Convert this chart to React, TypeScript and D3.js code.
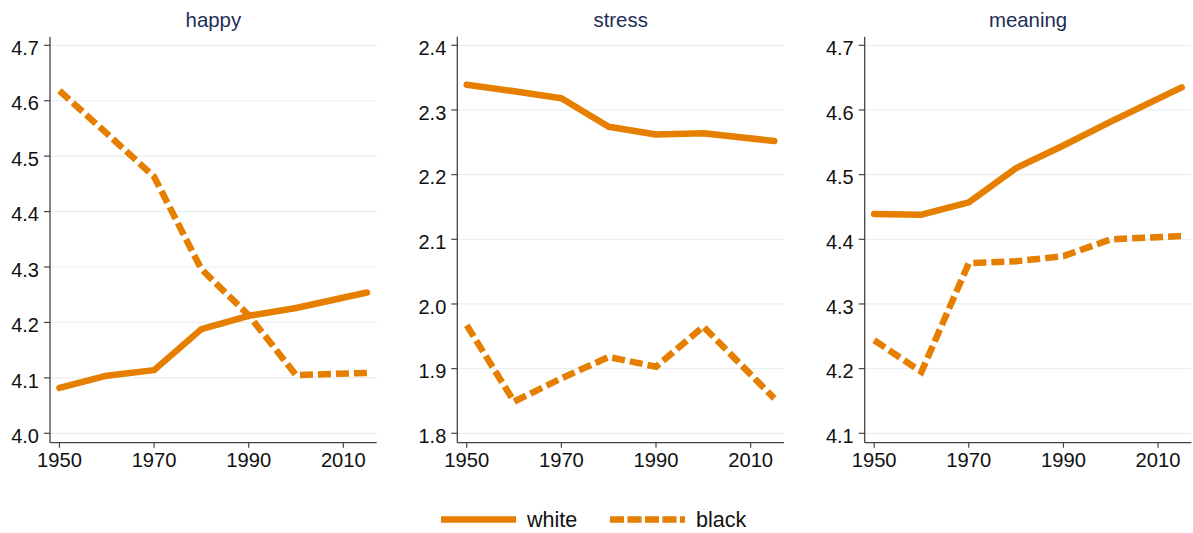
import * as d3 from 'd3';

const years = [1950, 1960, 1970, 1980, 1990, 2000, 2015];
const xTicks = [1950, 1970, 1990, 2010];

const happyWhite = [4.082, 4.104, 4.114, 4.188, 4.212, 4.226, 4.254];
const happyBlack = [4.618, 4.541, 4.463, 4.296, 4.213, 4.105, 4.109];
const stressWhite = [2.339, 2.329, 2.318, 2.274, 2.262, 2.264, 2.252];
const stressBlack = [1.967, 1.849, 1.885, 1.918, 1.903, 1.965, 1.854];
const meaningWhite = [4.439, 4.438, 4.457, 4.51, 4.545, 4.582, 4.635];
const meaningBlack = [4.244, 4.195, 4.363, 4.366, 4.374, 4.4, 4.405];

const happyTicks = [4.0, 4.1, 4.2, 4.3, 4.4, 4.5, 4.6, 4.7];
const stressTicks = [1.8, 1.9, 2.0, 2.1, 2.2, 2.3, 2.4];
const meaningTicks = [4.1, 4.2, 4.3, 4.4, 4.5, 4.6, 4.7];

const seriesLabels = ['white', 'black'];

const ORANGE = '#e67e00';
const FONT = '"Liberation Sans", Arial, Helvetica, sans-serif';

type Panel = { title: string; white: number[]; black: number[]; ticks: number[]; left: number };

const panels: Panel[] = [
  { title: 'happy', white: happyWhite, black: happyBlack, ticks: happyTicks, left: 50 },
  { title: 'stress', white: stressWhite, black: stressBlack, ticks: stressTicks, left: 457.3 },
  { title: 'meaning', white: meaningWhite, black: meaningBlack, ticks: meaningTicks, left: 864.7 },
];

const plotW = 326.7;
const top = 36.7;
const bottom = 442.7;
const tickTop = 45.3;
const tickBottom = 433.3;

function PanelChart({ p }: { p: Panel }) {
  const x = d3.scaleLinear().domain([1948, 2017.05]).range([p.left, p.left + plotW]);
  const lo = p.ticks[0];
  const hi = p.ticks[p.ticks.length - 1];
  const y0 = d3.scaleLinear().domain([lo, hi]).range([tickBottom, tickTop]);
  const y = d3.scaleLinear().domain([y0.invert(bottom), y0.invert(top)]).range([bottom, top]);
  const line = d3
    .line<number>()
    .x((_, i) => x(years[i]))
    .y((d) => y(d));

  return (
    <g>
      <text x={p.left + plotW / 2} y={27} textAnchor="middle" fontSize={20.4} fill="#1e2d55" fontFamily={FONT}>
        {p.title}
      </text>
      {p.ticks.map((t) => (
        <g key={t}>
          <line x1={p.left} x2={p.left + plotW} y1={y(t)} y2={y(t)} stroke="#e8f0f1" strokeWidth={1.2} />
          <line x1={p.left - 6} x2={p.left} y1={y(t)} y2={y(t)} stroke="#444" strokeWidth={1.2} />
          <text x={p.left - 11} y={y(t) + 2.5} dy="0.36em" textAnchor="end" fontSize={20} fill="#111" fontFamily={FONT}>
            {t.toFixed(1)}
          </text>
        </g>
      ))}
      {xTicks.map((t) => (
        <g key={t}>
          <line x1={x(t)} x2={x(t)} y1={bottom} y2={bottom + 5} stroke="#444" strokeWidth={1.2} />
          <text x={x(t)} y={467} textAnchor="middle" fontSize={20.2} fill="#111" fontFamily={FONT}>
            {t}
          </text>
        </g>
      ))}
      <line x1={p.left} x2={p.left} y1={top} y2={bottom} stroke="#444" strokeWidth={1.3} />
      <line x1={p.left} x2={p.left + plotW} y1={bottom} y2={bottom} stroke="#444" strokeWidth={1.3} />
      <path d={line(p.white) ?? ''} fill="none" stroke={ORANGE} strokeWidth={6.5} strokeLinejoin="round" strokeLinecap="round" />
      <path d={line(p.black) ?? ''} fill="none" stroke={ORANGE} strokeWidth={6.5} strokeDasharray="13 5" strokeLinejoin="miter" />
    </g>
  );
}

export default function App() {
  return (
    <svg width={1193} height={533} style={{ position: 'absolute', left: 0, top: 0, background: '#fff' }}>
      <rect width={1193} height={533} fill="#fff" />
      {panels.map((p) => (
        <PanelChart key={p.title} p={p} />
      ))}
      <g>
        <line x1={441} x2={516} y1={519.5} y2={519.5} stroke={ORANGE} strokeWidth={6.5} />
        <text x={527} y={519.5} dy="0.36em" fontSize={21.5} fill="#111" fontFamily={FONT}>
          {seriesLabels[0]}
        </text>
        <line x1={610} x2={685} y1={519.5} y2={519.5} stroke={ORANGE} strokeWidth={6.5} strokeDasharray="14 3.5" />
        <text x={696} y={519.5} dy="0.36em" fontSize={21.5} fill="#111" fontFamily={FONT}>
          {seriesLabels[1]}
        </text>
      </g>
    </svg>
  );
}
